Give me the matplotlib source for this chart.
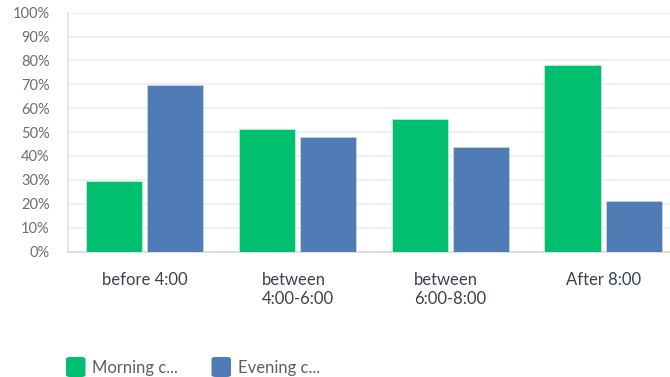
import matplotlib
matplotlib.use("Agg")
import matplotlib.pyplot as plt
import numpy as np
from matplotlib.patches import FancyBboxPatch

categories = ["before 4:00", "between\n4:00-6:00", "between\n6:00-8:00", "After 8:00"]
morning = [29.7, 51.2, 55.4, 77.9]
evening = [69.6, 48.0, 43.8, 21.1]
series_names = ["Morning c...", "Evening c..."]
yticks = [0, 10, 20, 30, 40, 50, 60, 70, 80, 90, 100]

GREEN = "#00bf6f"
BLUE = "#507cb6"

plt.rcParams["font.family"] = ["Lato", "DejaVu Sans"]

fig = plt.figure(figsize=(6.70, 3.77), dpi=100)
W, H = 670, 377
left_px, right_px = 68.3, 679.5
top_px, bot_px = 12.7, 251.5
ax = fig.add_axes([left_px / W, 1 - bot_px / H, (right_px - left_px) / W, (bot_px - top_px) / H])

x = np.arange(len(categories))
bw = 0.368
off = 0.2
ax.bar(x - off, morning, width=bw, color=GREEN, edgecolor="#b8f0d6", linewidth=0.6, zorder=3)
ax.bar(x + off, evening, width=bw, color=BLUE, edgecolor="#c5d4e8", linewidth=0.6, zorder=3)

ax.set_xlim(-0.5, len(categories) - 0.5)
ax.set_ylim(0, 100)
ax.set_yticks(yticks)
ax.set_yticklabels([f"{v}%" for v in yticks], color="#6b6f73", fontsize=10.5)
ax.yaxis.grid(True, color="#ededed", linewidth=1.2, zorder=0)
ax.tick_params(axis="y", length=0, pad=13.5)
ax.tick_params(axis="x", length=0)
ax.set_xticks(x)
ax.set_xticklabels([])
for xi, lab in zip(x, categories):
    ax.text(xi, -8.6, lab, ha="center", va="top", multialignment="left",
            fontsize=12, color="#3a424b", linespacing=1.2,
            transform=ax.transData)

for s in ["top", "right"]:
    ax.spines[s].set_visible(False)
ax.spines["left"].set_color("#e2e2e2")
ax.spines["bottom"].set_color("#d8d8d8")
ax.spines["left"].set_linewidth(1.2)
ax.spines["bottom"].set_linewidth(1.2)

# legend drawn in figure pixel coordinates
def px(xp, yp):
    return xp / W, 1 - yp / H

for (x0, name, col) in [(66, series_names[0], GREEN), (211.5, series_names[1], BLUE)]:
    bx, by = px(x0, 377)
    box = FancyBboxPatch((bx, by), 19.5 / W, 20 / H,
                         boxstyle="round,pad=0,rounding_size=0.006",
                         transform=fig.transFigure, facecolor=col, edgecolor="none")
    fig.patches.append(box)
    tx, ty = px(x0 + 26.5, 367.5)
    fig.text(tx, ty, name, ha="left", va="center", fontsize=12, color="#5a6066")

fig.savefig("out.png", dpi=100)
